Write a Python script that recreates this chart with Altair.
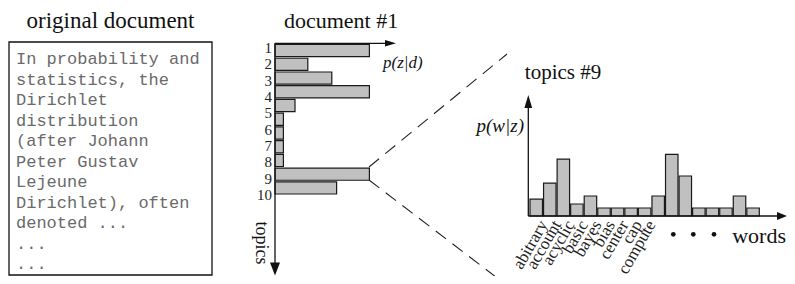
import altair as alt
import pandas as pd

# ---------------- data ----------------
doc_lines = [
    "In probability and",
    "statistics, the",
    "Dirichlet",
    "distribution",
    "(after Johann",
    "Peter Gustav",
    "Lejeune",
    "Dirichlet), often",
    "denoted ...",
    "...",
    "...",
]

topic_ids = list(range(1, 12))            # bars drawn in the document histogram
topic_pzd = [11.8, 4.1, 7.1, 11.8, 2.5, 1.05, 1.05, 1.05, 1.05, 11.8, 7.7]
topic_labels = ["1", "2", "3", "4", "5", "6", "7", "8", "9", "10"]

word_ids = list(range(1, 18))
word_pwz = [2.1, 4.1, 7.1, 1.5, 2.5, 1.0, 1.0, 1.0, 1.0, 2.5, 7.7, 5.0, 1.0, 1.0, 1.0, 2.5, 1.0]
word_labels = ["abitrary", "account", "acyclic", "basic", "bayes", "bias",
               "center", "cap", "compute"]

SERIF = "Liberation Serif"
MONO = "Liberation Mono"
BAR_FILL = "#c0c0c0"
BAR_STROKE = "#1a1a1a"

one = pd.DataFrame({"d": [0]})

# ---------------- scales ----------------
mid_x = alt.Scale(domain=[0, 10], range=[275, 355], nice=False, zero=True)
mid_y = alt.Scale(domain=topic_ids, range=[44.5, 194], paddingInner=0.12, paddingOuter=0)
lab_y = alt.Scale(type="point", domain=topic_labels, range=[48, 195], padding=0)
right_x = alt.Scale(domain=word_ids, range=[530, 759.3], paddingInner=0.08, paddingOuter=0)
right_y = alt.Scale(domain=[0, 10], range=[216, 136], nice=False, zero=True)

layers = []

# ---- left: original document box ----
layers.append(alt.Chart(one).mark_rect(fill="white", stroke="#111", strokeWidth=1.3).encode(
    x=alt.value(9), x2=alt.value(212), y=alt.value(42), y2=alt.value(275)))
layers.append(alt.Chart(one).mark_text(
    text=doc_lines, font=MONO, fontSize=17, color="#6a6a6a", align="left",
    baseline="alphabetic", lineHeight=20.5).encode(x=alt.value(16), y=alt.value(64)))
layers.append(alt.Chart(one).mark_text(
    text="original document", font=SERIF, fontSize=23, color="#111", align="center",
    baseline="alphabetic").encode(x=alt.value(110.5), y=alt.value(28)))

# ---- middle: document #1 ----
layers.append(alt.Chart(one).mark_text(
    text="document #1", font=SERIF, fontSize=22, color="#111", align="center",
    baseline="alphabetic").encode(x=alt.value(341), y=alt.value(28)))

mid_df = pd.DataFrame({"topic": topic_ids, "p": topic_pzd})
layers.append(alt.Chart(mid_df).mark_bar(fill=BAR_FILL, stroke=BAR_STROKE, strokeWidth=1.2).encode(
    x=alt.X("p:Q", scale=mid_x, axis=None),
    y=alt.Y("topic:O", scale=mid_y, axis=None)))

lab_df = pd.DataFrame({"lab": topic_labels})
layers.append(alt.Chart(lab_df).mark_text(
    font=SERIF, fontSize=15, color="#222", align="right", baseline="middle").encode(
    x=alt.value(272), y=alt.Y("lab:O", scale=lab_y, axis=None), text="lab:N"))

# axes with arrows
layers.append(alt.Chart(one).mark_rule(color="#111", strokeWidth=1.3).encode(
    x=alt.value(275), y=alt.value(43), y2=alt.value(264)))
layers.append(alt.Chart(one).mark_rule(color="#111", strokeWidth=1.3).encode(
    x=alt.value(275), x2=alt.value(387), y=alt.value(43.3)))
layers.append(alt.Chart(one).mark_point(
    shape="M-1,-0.6L1,0L-1,0.6Z", filled=True, color="#111", size=121, opacity=1).encode(
    x=alt.value(390.5), y=alt.value(43.3)))
layers.append(alt.Chart(one).mark_point(
    shape="M-0.77,-1L0,1L0.77,-1Z", filled=True, color="#111", size=169, opacity=1).encode(
    x=alt.value(275), y=alt.value(269)))

layers.append(alt.Chart(one).mark_text(
    text="p(z|d)", font=SERIF, fontSize=17, fontStyle="italic", color="#111",
    align="left", baseline="alphabetic").encode(x=alt.value(383), y=alt.value(68)))
layers.append(alt.Chart(one).mark_text(
    text="topics", font=SERIF, fontSize=18, color="#111", angle=90,
    align="center", baseline="middle").encode(x=alt.value(261), y=alt.value(243)))

# dashed zoom lines
layers.append(alt.Chart(one).mark_rule(color="#222", strokeWidth=1.1, strokeDash=[13, 8]).encode(
    x=alt.value(369), y=alt.value(167), x2=alt.value(507), y2=alt.value(54)))
layers.append(alt.Chart(one).mark_rule(color="#222", strokeWidth=1.1, strokeDash=[13, 8]).encode(
    x=alt.value(369), y=alt.value(180), x2=alt.value(505), y2=alt.value(284)))

# ---- right: topics #9 ----
layers.append(alt.Chart(one).mark_text(
    text="topics #9", font=SERIF, fontSize=21, color="#111", align="center",
    baseline="alphabetic").encode(x=alt.value(563), y=alt.value(79)))

right_df = pd.DataFrame({"word": word_ids, "p": word_pwz})
layers.append(alt.Chart(right_df).mark_bar(fill=BAR_FILL, stroke=BAR_STROKE, strokeWidth=1.2).encode(
    x=alt.X("word:O", scale=right_x, axis=None),
    y=alt.Y("p:Q", scale=right_y, axis=None)))

wl_df = pd.DataFrame({"word": word_ids[:len(word_labels)], "label": word_labels})
layers.append(alt.Chart(wl_df).mark_text(
    font=SERIF, fontSize=17, color="#222", angle=300, align="right", baseline="middle",
    xOffset=7).encode(
    x=alt.X("word:O", scale=right_x, axis=None), y=alt.value(222), text="label:N"))

layers.append(alt.Chart(one).mark_rule(color="#111", strokeWidth=1.3).encode(
    x=alt.value(528.3), y=alt.value(104), y2=alt.value(216)))
layers.append(alt.Chart(one).mark_rule(color="#111", strokeWidth=1.3).encode(
    x=alt.value(528.3), x2=alt.value(780), y=alt.value(216)))
layers.append(alt.Chart(one).mark_point(
    shape="M-1,-0.8L1,0L-1,0.8Z", filled=True, color="#111", size=100, opacity=1).encode(
    x=alt.value(782), y=alt.value(216)))
layers.append(alt.Chart(one).mark_point(
    shape="M-0.6,1L0,-1L0.6,1Z", filled=True, color="#111", size=169, opacity=1).encode(
    x=alt.value(528.3), y=alt.value(101.5)))

layers.append(alt.Chart(one).mark_text(
    text="p(w|z)", font=SERIF, fontSize=19, fontStyle="italic", color="#111",
    align="right", baseline="alphabetic").encode(x=alt.value(524), y=alt.value(132)))
layers.append(alt.Chart(one).mark_text(
    text="words", font=SERIF, fontSize=22, color="#111",
    align="right", baseline="alphabetic").encode(x=alt.value(786), y=alt.value(243)))
for dot_x in (673.3, 693.3, 714):
    layers.append(alt.Chart(one).mark_circle(color="#111", size=22, opacity=1).encode(
        x=alt.value(dot_x), y=alt.value(234.3)))

chart = alt.layer(*layers).resolve_scale(
    x="independent", y="independent"
).properties(
    width=787, height=276,
    padding={"left": -8, "top": -8, "right": 0, "bottom": 0},
    autosize=alt.AutoSizeParams(type="none"),
    background="white",
).configure_view(stroke=None)

chart.save("out.html", embed_options={"renderer": "svg", "actions": False})
